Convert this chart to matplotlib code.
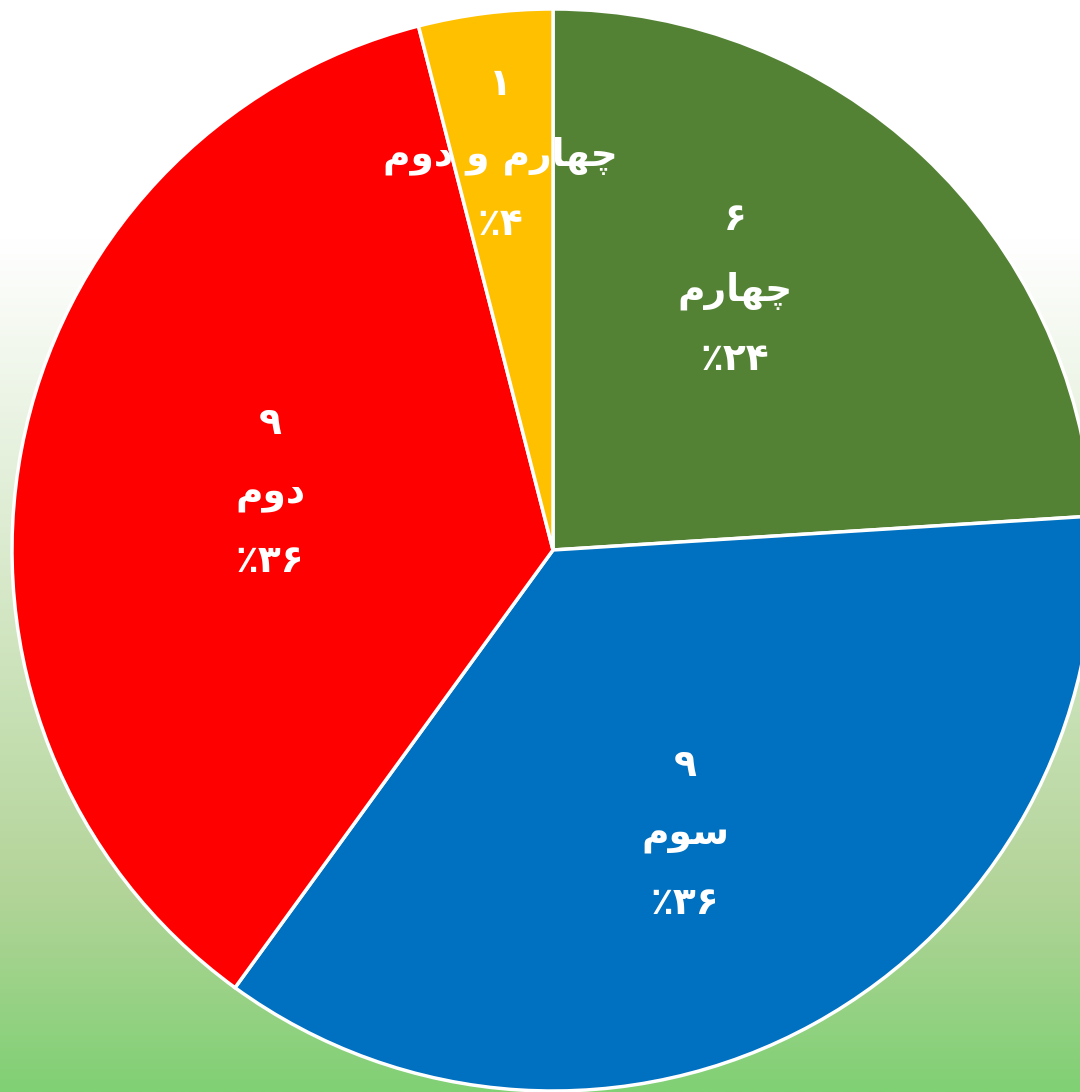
import numpy as np
import matplotlib
matplotlib.use("Agg")
import matplotlib.pyplot as plt

# data
names = ["چهارم", "سوم", "دوم", "چهارم و دوم"]
values = [6, 9, 9, 1]
colors = ["#548235", "#0070C0", "#FF0000", "#FFC000"]

# label centres in pie-radius units (Excel "best fit" placement)
label_xy = [(0.336, 0.481), (0.244, -0.527), (-0.523, 0.105), (-0.098, 0.730)]

# Arabic presentation forms: isolated, final, initial, medial
FORMS = {
    "چ": ("\uFB7A", "\uFB7B", "\uFB7C", "\uFB7D"),
    "ه": ("\uFEE9", "\uFEEA", "\uFEEB", "\uFEEC"),
    "م": ("\uFEE1", "\uFEE2", "\uFEE3", "\uFEE4"),
    "س": ("\uFEB1", "\uFEB2", "\uFEB3", "\uFEB4"),
    "ا": ("\uFE8D", "\uFE8E"),
    "ر": ("\uFEAD", "\uFEAE"),
    "و": ("\uFEED", "\uFEEE"),
    "د": ("\uFEA9", "\uFEAA"),
}


def shape(word):
    # pick contextual forms, then lay out right to left
    out = []
    for i, ch in enumerate(word):
        if ch not in FORMS:
            out.append(ch)
            continue
        prev = word[i - 1] if i > 0 else None
        nxt = word[i + 1] if i + 1 < len(word) else None
        join_prev = prev in FORMS and len(FORMS[prev]) == 4
        join_next = nxt in FORMS and len(FORMS[ch]) == 4
        f = FORMS[ch]
        if join_prev and join_next:
            out.append(f[3])
        elif join_prev:
            out.append(f[1])
        elif join_next:
            out.append(f[2])
        else:
            out.append(f[0])
    return "".join(reversed(out))


def fa_digits(n):
    return str(n).translate(str.maketrans("0123456789", "۰۱۲۳۴۵۶۷۸۹"))


W, H = 1080, 1092
fig = plt.figure(figsize=(W / 100, H / 100), dpi=100)

# gradient background: white at top, green at bottom
bg = fig.add_axes([0, 0, 1, 1], zorder=0)
ys = np.linspace(0, 1, 400)
stops_y = [0.0, 0.22, 0.82, 1.0]
stops_c = np.array([[255, 255, 255], [255, 255, 255], [178, 212, 152], [128, 208, 116]]) / 255
grad = np.stack([np.interp(ys, stops_y, stops_c[:, k]) for k in range(3)], axis=-1)
bg.imshow(grad[:, None, :], aspect="auto", extent=[0, 1, 0, 1])
bg.set_axis_off()

ax = fig.add_axes([0, 0, 1, 1], zorder=1)
ax.patch.set_alpha(0)

ax.pie(values, colors=colors, startangle=90, counterclock=False, radius=1,
       wedgeprops=dict(edgecolor="white", linewidth=2.5))

cx, cy, r = 553, 550, 541
ax.set_xlim(-cx / r, (W - cx) / r)
ax.set_ylim(-(H - cy) / r, cy / r)
ax.set_aspect("equal")
ax.set_axis_off()

total = sum(values)
for name, v, (lx, ly) in zip(names, values, label_xy):
    pct = round(v / total * 100)
    txt = fa_digits(v) + "\n" + shape(name) + "\n" + "٪" + fa_digits(pct)
    ax.text(lx, ly, txt, ha="center", va="center", multialignment="center",
            color="white", fontsize=27, fontweight="bold", linespacing=2.15,
            family=["DejaVu Sans"])

fig.savefig("out.png", dpi=100)
